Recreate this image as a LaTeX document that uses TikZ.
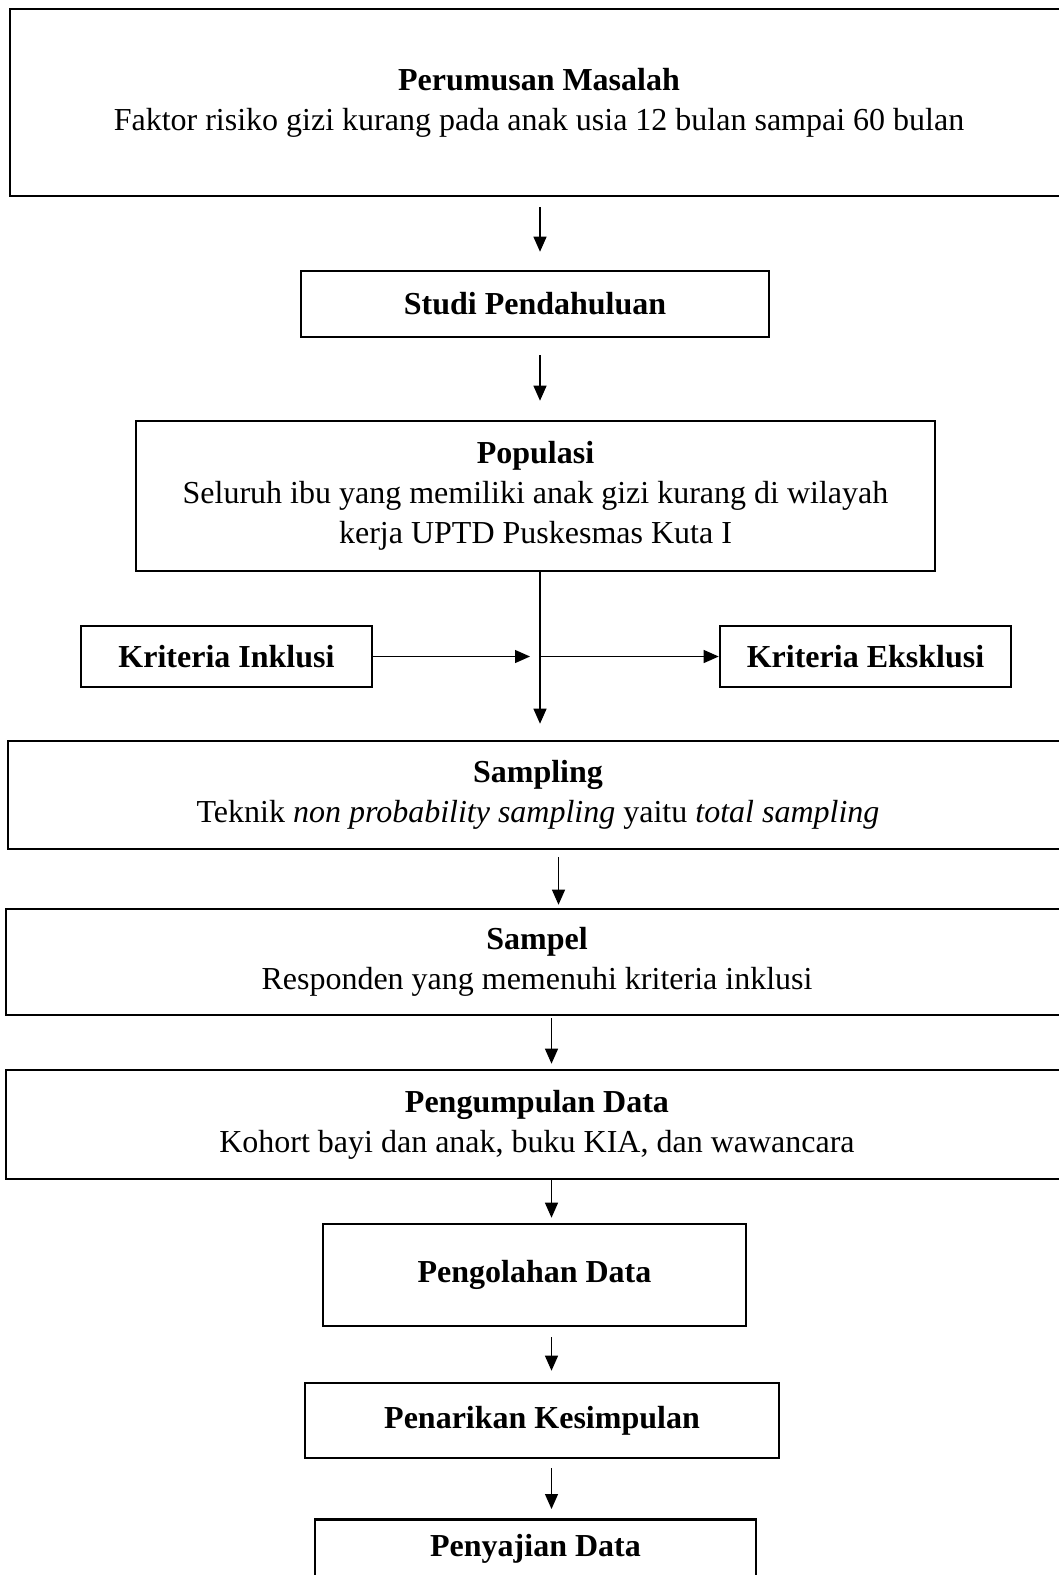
\documentclass[tikz,border=0pt]{standalone}
\usepackage{fontspec}
\setmainfont{Liberation Serif}
\usetikzlibrary{arrows.meta}
\begin{document}
\begin{tikzpicture}[x=0.5pt,y=-0.5pt,font=\fontsize{16}{20}\selectfont,
  box/.style={rectangle,draw,line width=1.3pt,align=center,inner sep=0pt},
  arr/.style={-{Triangle[length=7.5pt,width=6.5pt]},line width=0.6pt}]
  \useasboundingbox (0,0) rectangle (1059,1575);
  \clip (0,0) rectangle (1059,1575);

  %spine of the arrows
  \coordinate (spineA) at (540,0);
  \coordinate (spineB) at (558.5,0);
  \coordinate (spineC) at (551.5,0);

  %BOXES
  \node[box,minimum width=529pt,minimum height=93.5pt] (perumusan) at (539,102.5){\textbf{Perumusan Masalah}\\Faktor risiko gizi kurang pada anak usia 12 bulan sampai 60 bulan};
  \node[box,minimum width=234pt,minimum height=33pt] (studi) at (535,304){\textbf{Studi Pendahuluan}};
  \node[box,minimum width=399.5pt,minimum height=75pt] (populasi) at (535.5,496){\textbf{Populasi}\\Seluruh ibu yang memiliki anak gizi kurang di wilayah\\kerja UPTD Puskesmas Kuta I};
  \node[box,minimum width=145.5pt,minimum height=30.5pt] (inklusi) at (226.5,656.5){\textbf{Kriteria Inklusi}};
  \node[box,minimum width=145.5pt,minimum height=30.5pt] (eksklusi) at (865.5,656.5){\textbf{Kriteria Eksklusi}};
  \node[box,minimum width=530pt,minimum height=54pt] (sampling) at (538,795){\textbf{Sampling}\\Teknik \textit{non probability sampling} yaitu \textit{total sampling}};
  \node[box,minimum width=531pt,minimum height=53pt] (sampel) at (537,962){\textbf{Sampel}\\Responden yang memenuhi kriteria inklusi};
  \node[box,minimum width=531pt,minimum height=54.5pt] (pengumpulan) at (537,1124.5){\textbf{Pengumpulan Data}\\Kohort bayi dan anak, buku KIA, dan wawancara};
  \node[box,minimum width=211.5pt,minimum height=51pt] (pengolahan) at (534.5,1275){\textbf{Pengolahan Data}};
  \node[box,minimum width=237pt,minimum height=37.5pt] (penarikan) at (542,1420.5){\textbf{Penarikan Kesimpulan}};
  \node[box,anchor=north,minimum width=220.5pt,text height=18.8pt,text depth=40pt] (penyajian) at (535.5,1518){\textbf{Penyajian Data}};

  %ARROWS
  \draw[arr,shorten <=5pt,shorten >=9pt] (perumusan.south -| spineA) -- (studi.north -| spineA);
  \draw[arr,shorten <=8.5pt,shorten >=9.5pt] (studi.south -| spineA) -- (populasi.north -| spineA);
  \draw[arr,shorten >=8pt] (populasi.south -| spineA) -- (sampling.north -| spineA);
  \draw[arr,shorten >=5pt] (inklusi.east) -- (inklusi.east -| spineA);
  \draw[arr] (eksklusi.west -| spineA) -- (eksklusi.west);
  \draw[arr,shorten <=3.5pt,shorten >=1.5pt] (sampling.south -| spineB) -- (sampel.north -| spineB);
  \draw[arr,shorten <=1pt,shorten >=2.5pt] (sampel.south -| spineC) -- (pengumpulan.north -| spineC);
  \draw[arr,shorten >=2.5pt] (pengumpulan.south -| spineC) -- (pengolahan.north -| spineC);
  \draw[arr,shorten <=5pt,shorten >=5.5pt] (pengolahan.south -| spineC) -- (penarikan.north -| spineC);
  \draw[arr,shorten <=4.5pt,shorten >=4.5pt] (penarikan.south -| spineC) -- (penyajian.north -| spineC);

\end{tikzpicture}
\end{document}
